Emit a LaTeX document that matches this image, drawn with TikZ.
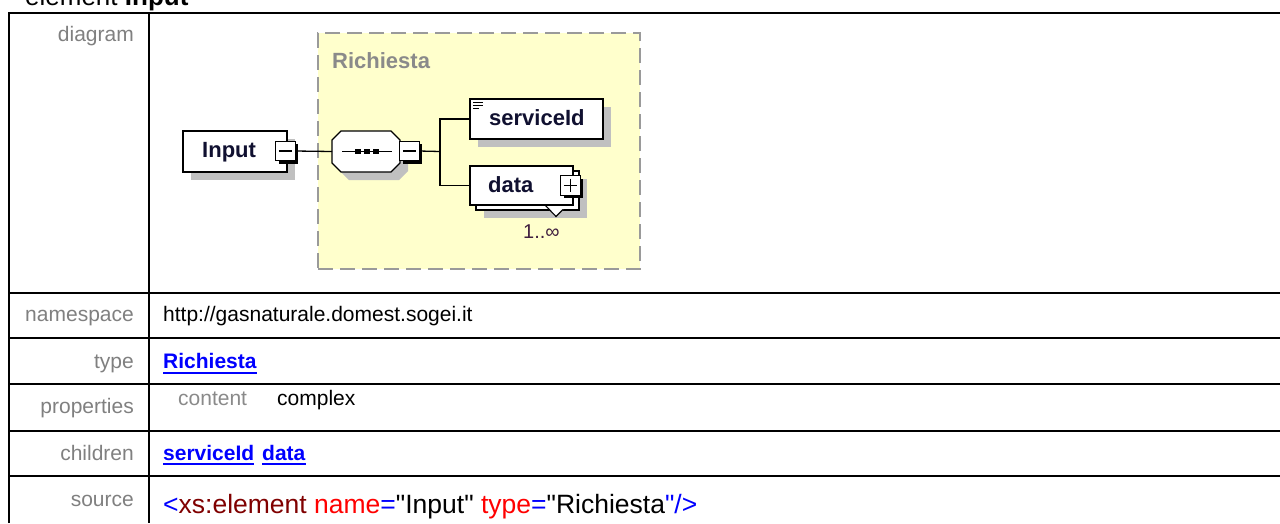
\documentclass[tikz,border=0pt]{standalone}
\usepackage{fontspec}
\setmainfont{Liberation Sans}[Ligatures=TeXOff]
\usetikzlibrary{shadows}
\definecolor{lblgray}{HTML}{808080}
\definecolor{boxyellow}{HTML}{FFFFCC}
\definecolor{dashgray}{HTML}{9A9A9A}
\definecolor{shgray}{HTML}{C0C0C0}
\definecolor{linkblue}{HTML}{0000FF}
\definecolor{srcmaroon}{HTML}{800000}
\definecolor{occcol}{HTML}{402040}
\definecolor{elemtext}{HTML}{101030}
\definecolor{typegray}{HTML}{8A8A8A}
\newcommand{\fsN}{\fontsize{21}{25}\selectfont}
\newcommand{\fsD}{\fontsize{22}{26}\selectfont\bfseries}
\newcommand{\fsT}{\fontsize{26}{30}\selectfont}
\newcommand{\fsS}{\fontsize{26.5}{31}\selectfont}
\begin{document}
\begin{tikzpicture}[x=1pt,y=-1pt,
  tbl/.style={line width=2pt,black},
  lbl/.style={text=lblgray,font=\fsN,anchor=base east,inner sep=0},
  val/.style={font=\fsN,anchor=base west,inner sep=0},
  link/.style={font=\fsN\bfseries,text=linkblue,anchor=base west,inner sep=0},
  uline/.style={linkblue,line width=2pt},
  eltext/.style={font=\fsD,text=elemtext,anchor=base west,inner sep=0},
  elbox/.style={draw=black,line width=1.3pt,fill=white,inner sep=0,outer sep=0,
     drop shadow={shadow xshift=8pt,shadow yshift=-8pt,fill=shgray,opacity=1}},
  plainbox/.style={draw=black,line width=1.3pt,fill=white,inner sep=0,outer sep=0},
  togglebox/.style={draw=black,line width=1pt,fill=white,inner sep=0,outer sep=0,
     minimum width=19.5pt,minimum height=19.5pt,
     drop shadow={shadow xshift=3pt,shadow yshift=-3pt,fill=black,opacity=1}},
  conn/.style={line width=1.3pt,black}
]
\useasboundingbox (0,0) rectangle (1280,523);
\fill[white] (0,0) rectangle (1280,523);

% title (cropped at top, as in the reference)
\node[font=\fsT,anchor=base west,inner sep=0] (title) at (25,5) {element \textbf{Input}};

% table lines
\draw[tbl] (9,523) -- (9,13) -- (1282,13);
\draw[tbl] (149,13) -- (149,523);
\foreach \yy in {293,338,384,430.5,476} \draw[tbl] (9,\yy) -- (1282,\yy);

% labels
\node[lbl] (l1) at (134,41.5) {diagram};
\node[lbl] (l2) at (134,321) {namespace};
\node[lbl] (l3) at (134,368) {type};
\node[lbl] (l4) at (134,413.5) {properties};
\node[lbl] (l5) at (134,460) {children};
\node[lbl] (l6) at (134,506) {source};

% values
\node[val] (ns) at (163,321) {http://gasnaturale.domest.sogei.it};
\node[link] (tp) at (163,368) {Richiesta};
\draw[uline] ([yshift=-4.5pt]tp.base west) -- ([yshift=-4.5pt]tp.base east);
\node[val,text=typegray] (pc) at (178,405) {content};
\node[val] (pv) at (277,405) {complex};
\node[link] (c1) at (163,460) {serviceId};
\draw[uline] ([yshift=-3.5pt]c1.base west) -- ([yshift=-3.5pt]c1.base east);
\node[link] (c2) at (262,460) {data};
\draw[uline] ([yshift=-3.5pt]c2.base west) -- ([yshift=-3.5pt]c2.base east);
\node[font=\fsS,anchor=base west,inner sep=0] (src) at (163,513)
  {{\color{linkblue}<}{\color{srcmaroon}xs:element} {\color{red}name}{\color{linkblue}=}"Input" {\color{red}type}{\color{linkblue}=}"Richiesta{\color{linkblue}"/>}};

% complex type container
\node[draw=dashgray,line width=2pt,dash pattern=on 15pt off 7pt,fill=boxyellow,
      minimum width=322pt,minimum height=236pt,inner sep=0] (rich) at (479,151) {};
\node[font=\fsD,text=typegray,anchor=base west,inner sep=0] (richlbl) at (332,68) {Richiesta};

% Input element
\node[elbox,minimum width=104pt,minimum height=41pt] (inputbox) at (235,151.5) {};
\node[eltext] (inputtxt) at (202,157) {Input};
\node[togglebox] (inputminus) at (285.5,151) {};
\draw[line width=1.3pt] ([xshift=3pt]inputminus.west) -- ([xshift=-3pt]inputminus.east);

% sequence compositor
\node[minimum width=68pt,minimum height=41pt,inner sep=0,outer sep=0] (seq) at (366,151.5) {};
\fill[shgray] (349,139)--(399,139)--(408,148)--(408,171)--(399,180)--(349,180)--(340,171)--(340,148)--cycle;
\draw[fill=white,line width=1.3pt] (341,131)--(391,131)--(400,140)--(400,163)--(391,172)--(341,172)--(332,163)--(332,140)--cycle;
\draw[line width=1.2pt] (342,151.5) -- (392,151.5);
\foreach \xx in {358,367,376} \fill (\xx-3,149) rectangle (\xx+3,154);
\node[togglebox] (seqminus) at (409.5,151) {};
\draw[line width=1.3pt] ([xshift=3pt]seqminus.west) -- ([xshift=-3pt]seqminus.east);

% serviceId element
\node[elbox,minimum width=133pt,minimum height=40pt] (sid) at (536.5,119) {};
\node[eltext] (sidtxt) at (489,125) {serviceId};
\draw[line width=1pt] (473,102) -- (483,102) (473,105) -- (483,105) (473,108) -- (479,108);

% data element (repeated)
\node[elbox,minimum width=103pt,minimum height=39pt] (databack) at (527.5,190.5) {};
\node[plainbox,minimum width=103pt,minimum height=39pt] (data) at (521.5,185.5) {};
\fill[white] (546,206.2) -- (563,206.2) -- (563,210) -- (556,217) -- cycle;
\draw[line width=1.1pt] (545,205) -- (556,216.5) -- (563,209.5);
\node[eltext] (datatxt) at (488,192) {data};
\node[togglebox] (dataplus) at (570.5,185.5) {};
\draw[line width=1.3pt] ([xshift=3pt]dataplus.west) -- ([xshift=-3pt]dataplus.east);
\draw[line width=1.3pt] ([yshift=-3pt]dataplus.north) -- ([yshift=3pt]dataplus.south);
\node[font=\fontsize{20}{22}\selectfont,text=occcol,anchor=base west,inner sep=0] (occ) at (523,238) {1..∞};

% connectors
\coordinate (br) at (440,151.5);
\draw[conn] (inputminus.east) -- (seq.west);
\draw[conn] (seqminus.east) -- (br);
\draw[conn] (sid.west) -| (br) |- (data.west);
\end{tikzpicture}
\end{document}
